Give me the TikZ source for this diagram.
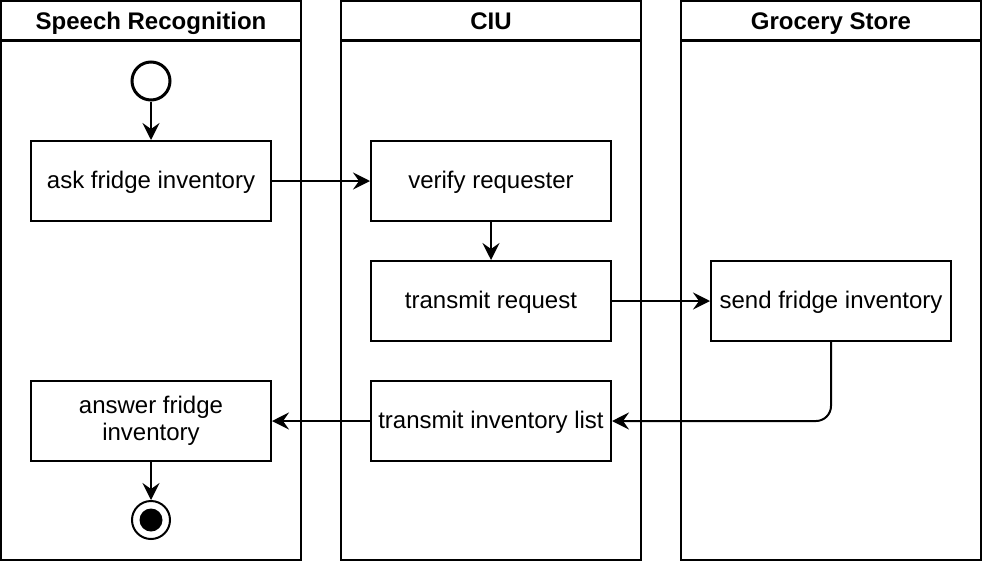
\documentclass[tikz,border=0pt]{standalone}
\usepackage{fontspec}
\setmainfont{Liberation Sans}
\usetikzlibrary{arrows.meta}
\begin{document}
\begin{tikzpicture}[x=1pt,y=-1pt,line width=2pt,
  lane/.style={draw,rectangle,minimum width=300pt,minimum height=520pt,inner sep=0pt},
  lanehead/.style={draw,rectangle,minimum width=300pt,minimum height=40pt,inner sep=0pt,text height=19pt,text depth=3pt,font=\fontsize{24}{27}\selectfont\bfseries},
  actbox/.style={draw,rectangle,minimum width=240pt,minimum height=80pt,inner sep=2pt,text height=18.5pt,text depth=4pt,align=center,font=\fontsize{24}{27}\selectfont},
  flow/.style={-{Stealth[length=17pt,width=17pt,inset=6pt]},line width=2pt},
  startnode/.style={draw,circle,minimum size=38pt,inner sep=0pt,line width=3pt},
]
\useasboundingbox (0,0) rectangle (982,562);
\node[lane] (l1) at (151,300) {};
\node[lane] (l2) at (491,300) {};
\node[lane] (l3) at (831,300) {};
\node[lanehead] (h1) at (151,21) {Speech Recognition};
\node[lanehead] (h2) at (491,21) {CIU};
\node[lanehead] (h3) at (831,21) {Grocery Store};

\node[startnode] (start) at (151,81) {};
\node[actbox] (ask) at (151,181) {ask fridge inventory};
\node[actbox] (verify) at (491,181) {verify requester};
\node[actbox] (transmit) at (491,301) {transmit request};
\node[actbox] (send) at (831,301) {send fridge inventory};
\node[actbox] (list) at (491,421) {transmit inventory list};
\node[actbox,text height=42pt,text depth=4pt] (answer) at (151,421) {answer fridge\\inventory};
\node[draw,circle,minimum size=38pt,inner sep=0pt,line width=2pt] (stop) at (151,520) {};
\fill (stop.center) circle (11.5pt);

\draw[flow] (start) -- (ask);
\draw[flow] (ask) -- (verify);
\draw[flow] (verify) -- (transmit);
\draw[flow] (transmit) -- (send);
\draw[flow,rounded corners=15pt] (send.south) |- (list.east);
\draw[flow] (list) -- (answer);
\draw[flow] (answer) -- (stop);
\end{tikzpicture}
\end{document}
